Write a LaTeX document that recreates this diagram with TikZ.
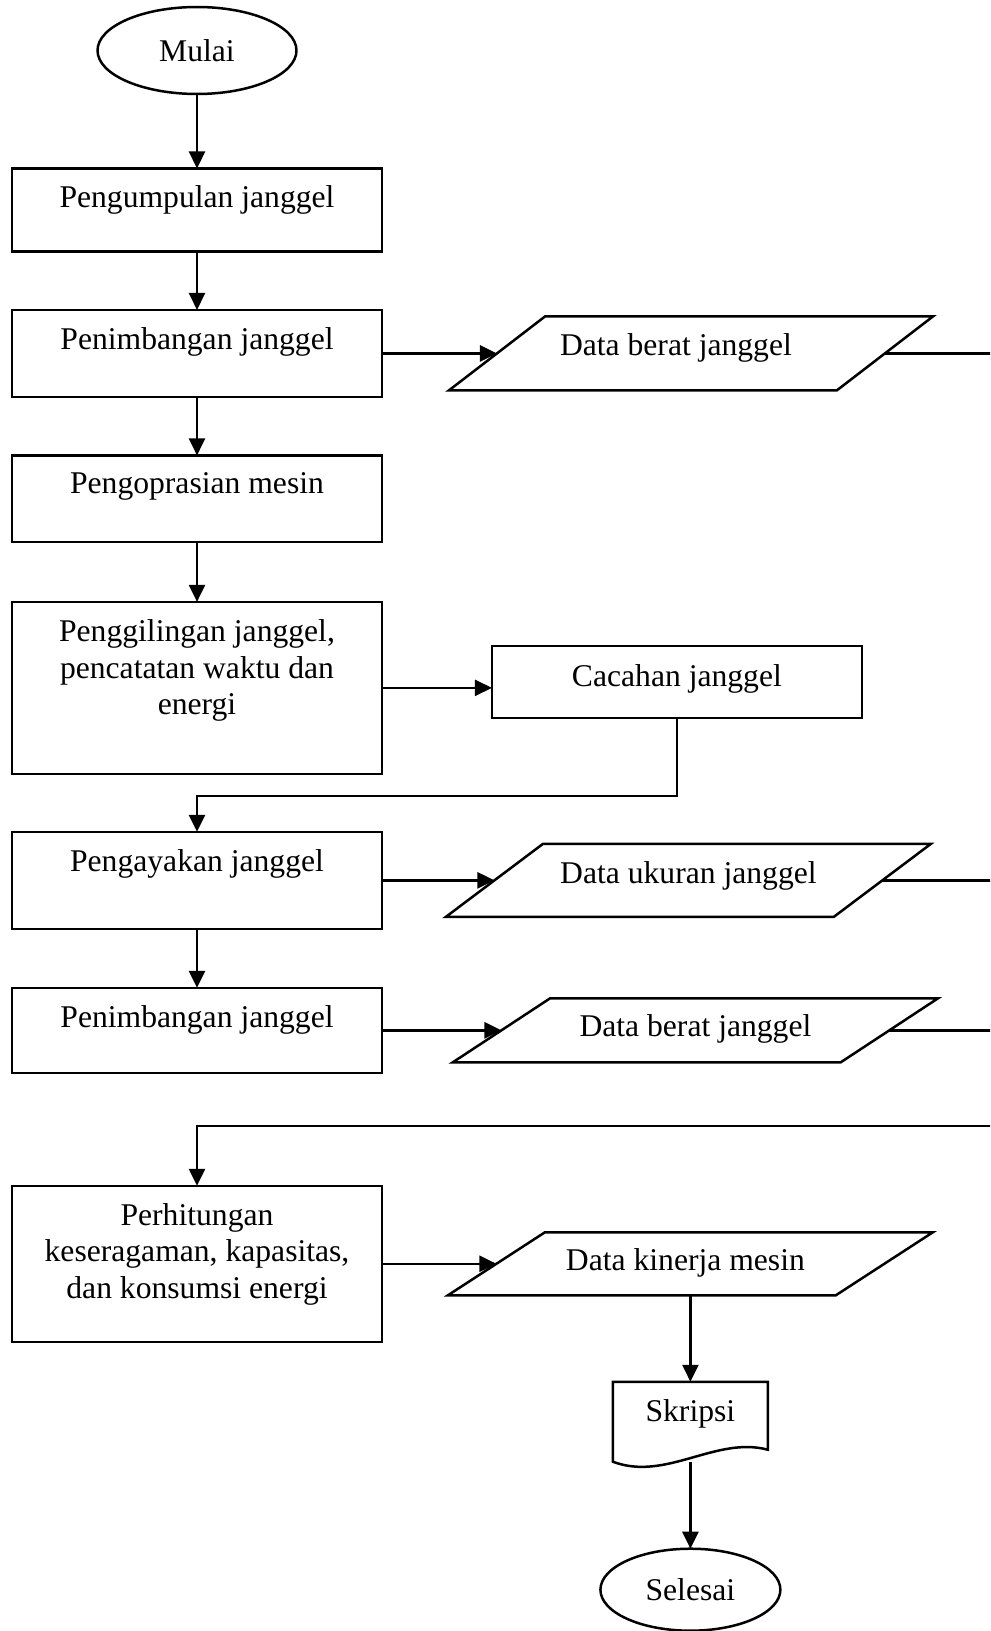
\documentclass[tikz,border=0pt]{standalone}
\usepackage{fontspec}
\setmainfont{Liberation Serif}
\usetikzlibrary{positioning,calc,shapes.geometric,arrows.meta}

\begin{document}
\begin{tikzpicture}[
    x=0.02cm, y=-0.02cm,
    font=\fontsize{18}{21}\selectfont,
    terminal/.style={ellipse, draw, line width=0.05cm, inner sep=0pt, outer sep=0pt},
    procbox/.style={rectangle, draw, line width=0.05cm, minimum width=7.4cm,
                    minimum height=#1, inner sep=0pt, outer sep=0pt},
    databox/.style={rectangle, draw, line width=0.05cm, minimum width=7.76cm,
                    xslant=#1, transform shape, inner sep=0pt, outer sep=0pt},
    docbox/.style={rectangle, minimum width=3.1cm, minimum height=1.6cm,
                   inner sep=0pt, outer sep=0pt},
    boxtext/.style={anchor=north, align=center, inner sep=0pt},
    arrow/.style={->, >={Triangle[length=0.34cm, width=0.32cm]}, line width=0.05cm},
    line/.style={line width=0.05cm}
]
\useasboundingbox (0,0) rectangle (990,1631);
\clip (0,0) rectangle (990,1631);

% main column
\node[terminal, minimum width=3.98cm, minimum height=1.74cm] (mulai) at (197,50.5) {Mulai};
\node[procbox=1.66cm, below=1.49cm of mulai] (b1) {};
\node[boxtext] (b1t) at ($(b1.north)+(0,17)$) {Pengumpulan janggel};
\node[procbox=1.74cm, below=1.17cm of b1] (b2) {};
\node[boxtext] (b2t) at ($(b2.north)+(0,17)$) {Penimbangan janggel};
\node[procbox=1.73cm, below=1.17cm of b2] (b3) {};
\node[boxtext] (b3t) at ($(b3.north)+(0,17)$) {Pengoprasian mesin};
\node[procbox=3.44cm, below=1.2cm of b3] (b4) {};
\node[boxtext] (b4t) at ($(b4.north)+(0,17)$) {Penggilingan janggel,\\pencatatan waktu dan\\energi};
\node[procbox=1.94cm, below=1.16cm of b4] (b5) {};
\node[boxtext] (b5t) at ($(b5.north)+(0,17)$) {Pengayakan janggel};
\node[procbox=1.7cm, below=1.18cm of b5] (b6) {};
\node[boxtext] (b6t) at ($(b6.north)+(0,17)$) {Penimbangan janggel};
\node[procbox=3.12cm, below=2.26cm of b6] (b7) {};
\node[boxtext] (b7t) at ($(b7.north)+(0,17)$) {Perhitungan\\keseragaman, kapasitas,\\dan konsumsi energi};

% right column
\node[databox=1.30, minimum height=1.48cm, right=2.3cm of b2] (p1) {};
\node[boxtext] (p1t) at ($(p1.center)+(-15,-20)$) {Data berat janggel};
\node[procbox=1.44cm, right=2.2cm of b4, yshift=0.12cm] (cac) {};
\node[boxtext] (cact) at ($(cac.north)+(0,18)$) {Cacahan janggel};
\node[databox=1.33, minimum height=1.46cm, right=2.25cm of b5] (p2) {};
\node[boxtext] (p2t) at ($(p2.center)+(0,-19.5)$) {Data ukuran janggel};
\node[databox=1.52, minimum height=1.28cm, right=2.39cm of b6] (p3) {};
\node[boxtext] (p3t) at ($(p3.center)+(0,-16)$) {Data berat janggel};
\node[databox=1.54, minimum height=1.26cm, right=2.29cm of b7] (p4) {};
\node[boxtext] (p4t) at ($(p4.center)+(-5,-15.5)$) {Data kinerja mesin};
\coordinate (p4b) at (p4.center |- p4.south);
\node[docbox, below=1.73cm of p4b] (skr) {};
\draw[line] (skr.north west) -- (skr.north east) -- ([yshift=0.24cm]skr.south east)
    .. controls +(-52,-14) and +(53,20) .. (skr.south west) -- cycle;
\node[boxtext] (skrt) at ($(skr.north)+(0,17)$) {Skripsi};
\node[terminal, minimum width=3.6cm, minimum height=1.64cm, below=1.74cm of skr] (selesai) {Selesai};

% connectors
\coordinate (rail) at (1010,0);
\coordinate (turn) at (1010,1126);
\draw[arrow] (mulai) -- (b1);
\draw[arrow] (b1) -- (b2);
\draw[arrow] (b2) -- (b3);
\draw[arrow] (b3) -- (b4);
\draw[arrow] (b5) -- (b6);
\draw[arrow] (b2.east) -- (p1.west);
\draw[arrow] (b4.east) -- (b4.east -| cac.west);
\draw[arrow] (cac.south) -- ++(0,78) -| (b5.north);
\draw[arrow] (b5.east) -- (p2.west);
\draw[arrow] (b6.east) -- (p3.west);
\draw[arrow] (b7.east) -- (p4.west);
\draw[arrow] (p1.east) -- (p1.east -| rail) -- (turn) -| (b7.north);
\draw[line] (p2.east) -- (p2.east -| rail);
\draw[line] (p3.east) -- (p3.east -| rail);
\draw[arrow] (p4b) -- (skr.north);
\draw[arrow] (skr.south) -- (selesai.north);

\end{tikzpicture}
\end{document}
